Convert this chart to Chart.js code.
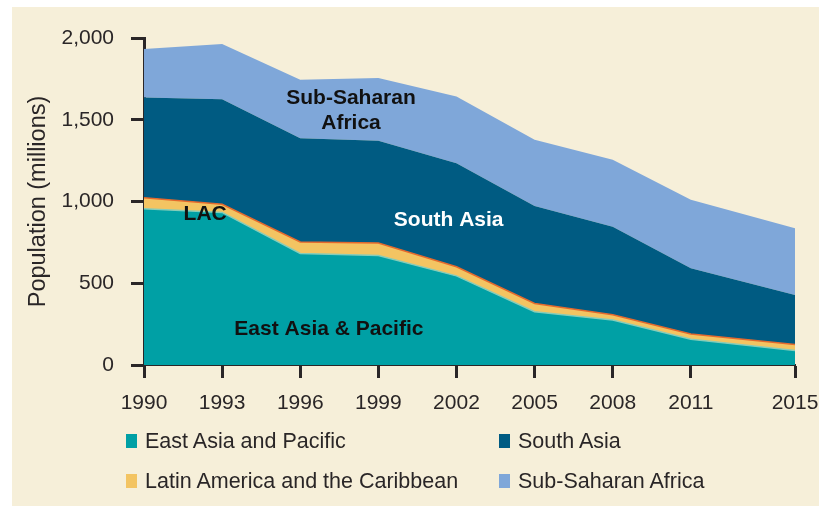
<!DOCTYPE html>
<html>
<head>
<meta charset="utf-8">
<script src="https://cdn.jsdelivr.net/npm/chart.js@4/dist/chart.umd.min.js"></script>
<style>
  html, body { margin: 0; padding: 0; background: #fff; }
  #wrap { position: relative; width: 819px; height: 506px; overflow: hidden; }
  #panel { position: absolute; left: 12px; top: 7px; right: 0; bottom: 0; background: #f6efd9; }
  #chart { position: absolute; left: 0; top: 0; }
  .leg { position: absolute; font-family: 'Liberation Sans', Arial, sans-serif;
         font-size: 21.5px; color: #2a2627; white-space: nowrap; line-height: 30px; }
  .leg i { position: absolute; left: -19px; top: 8px; width: 11px; height: 14px; }
</style>
</head>
<body>
<div id="wrap">
  <div id="panel"></div>
  <canvas id="chart" width="819" height="506"></canvas>
  <div id="legend"></div>
</div>
<script>
const years = [1990, 1993, 1996, 1999, 2002, 2005, 2008, 2011, 2015];
const yTicks = [0, 500, 1000, 1500, 2000];

// millions of people
const eastAsia = [955, 933, 682, 670, 545, 326, 275, 157, 88];
const latinAmerica = [68, 50, 70, 76, 56, 50, 32, 32, 38];
const southAsia = [613, 643, 635, 625, 633, 597, 539, 403, 302];
const subSaharan = [296, 338, 357, 385, 408, 404, 409, 418, 409];

const legendNames = ['East Asia and Pacific', 'South Asia', 'Latin America and the Caribbean', 'Sub-Saharan Africa'];
const colors = {
  eap: '#00a0a5',
  lac: '#f3c462',
  sa: '#005b82',
  ssa: '#7fa7d9'
};

const ink = '#2a2627';
const sans = "'Liberation Sans', Arial, sans-serif";

const pts = arr => arr.map((v, i) => ({ x: years[i], y: v }));

// area labels, placed in data units
const areaLabels = [
  { text: 'Sub-Saharan', x: 1997.95, y: 1634, color: '#111' },
  { text: 'Africa', x: 1997.95, y: 1481, color: '#111' },
  { text: 'South Asia', x: 2001.7, y: 884, color: '#fff' },
  { text: 'LAC', x: 1992.35, y: 924, color: '#111' },
  { text: 'East Asia & Pacific', x: 1997.1, y: 220, color: '#111' }
];

const labelPlugin = {
  id: 'areaLabels',
  afterDatasetsDraw(chart) {
    const { ctx, scales } = chart;
    ctx.save();
    ctx.font = "bold 21px " + sans;
    ctx.textAlign = 'center';
    ctx.textBaseline = 'middle';
    areaLabels.forEach(l => {
      ctx.fillStyle = l.color;
      ctx.fillText(l.text, scales.x.getPixelForValue(l.x), scales.y.getPixelForValue(l.y));
    });
    ctx.restore();
  }
};

new Chart(document.getElementById('chart'), {
  type: 'line',
  data: {
    datasets: [
      { label: legendNames[0], data: pts(eastAsia), backgroundColor: colors.eap, borderColor: '#86cdb9', borderWidth: 1.5, fill: 'origin' },
      { label: legendNames[2], data: pts(latinAmerica), backgroundColor: colors.lac, borderColor: '#e4692d', borderWidth: 1.5, fill: '-1' },
      { label: legendNames[1], data: pts(southAsia), backgroundColor: colors.sa, borderColor: colors.sa, borderWidth: 0, fill: '-1' },
      { label: legendNames[3], data: pts(subSaharan), backgroundColor: colors.ssa, borderColor: colors.ssa, borderWidth: 0, fill: '-1' }
    ]
  },
  options: {
    responsive: false,
    animation: false,
    elements: { point: { radius: 0 }, line: { tension: 0 } },
    layout: { padding: { left: 0, top: 38, right: 24, bottom: 96 } },
    plugins: { legend: { display: false }, tooltip: { enabled: false } },
    scales: {
      x: {
        type: 'linear', min: 1990, max: 2015,
        afterBuildTicks: s => { s.ticks = years.map(v => ({ value: v })); },
        afterFit: s => { s.height = 45; s.paddingLeft = 0; s.paddingRight = 0; },
        ticks: { callback: v => String(v), color: ink, font: { family: sans, size: 21 }, padding: 13, maxRotation: 0, autoSkip: false },
        grid: { drawOnChartArea: false, tickLength: 13, tickWidth: 3, tickColor: ink },
        border: { display: true, color: ink, width: 2 }
      },
      y: {
        stacked: true, min: 0, max: 2000,
        afterBuildTicks: s => { s.ticks = yTicks.map(v => ({ value: v })); },
        afterFit: s => { s.width = 144; },
        ticks: { callback: v => v.toLocaleString('en-US'), color: ink, font: { family: sans, size: 21 }, padding: 17 },
        grid: { drawOnChartArea: false, tickLength: 13, tickWidth: 3, tickColor: ink },
        border: { display: true, color: ink, width: 3 },
        title: { display: true, text: 'Population (millions)', color: ink, font: { family: sans, size: 23.5 }, padding: { top: 24, bottom: 0 } }
      }
    }
  },
  plugins: [labelPlugin]
});

// legend in two columns under the plot
const legendItems = [
  { name: legendNames[0], color: colors.eap, left: 145, top: 426 },
  { name: legendNames[1], color: colors.sa, left: 518, top: 426 },
  { name: legendNames[2], color: colors.lac, left: 145, top: 466 },
  { name: legendNames[3], color: colors.ssa, left: 518, top: 466 }
];
const legendEl = document.getElementById('legend');
legendItems.forEach(it => {
  const d = document.createElement('div');
  d.className = 'leg';
  d.style.left = it.left + 'px';
  d.style.top = it.top + 'px';
  d.innerHTML = '<i style="background:' + it.color + '"></i>' + it.name;
  legendEl.appendChild(d);
});
</script>
</body>
</html>
